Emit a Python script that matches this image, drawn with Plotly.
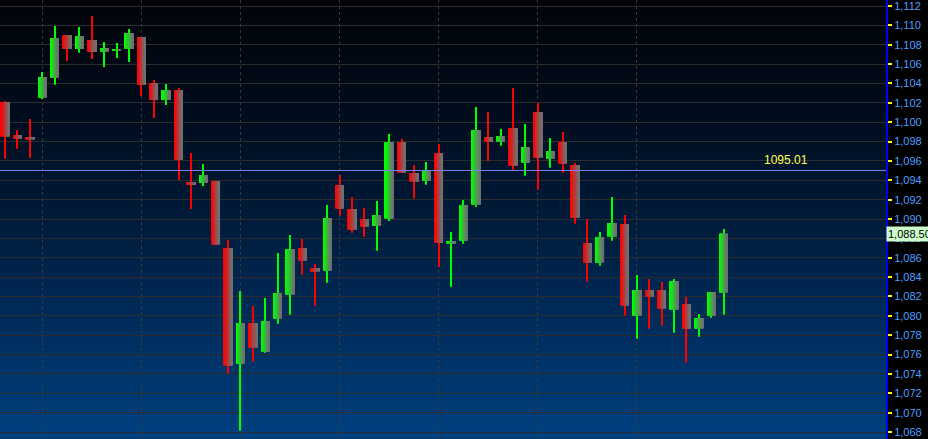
import plotly.graph_objects as go

# ---- data ----
opens = [1102.08, 1098.68, 1098.47, 1102.53, 1104.60, 1109.00, 1107.56, 1108.49, 1107.28, 1107.38,
         1107.56, 1108.80, 1104.05, 1102.29, 1103.32, 1093.82, 1093.72, 1093.93, 1087.00, 1075.05,
         1079.26, 1076.30, 1079.70, 1082.18, 1087.00, 1084.94, 1084.66, 1093.51, 1091.03, 1090.00,
         1089.31, 1090.03, 1097.95, 1094.75, 1093.96, 1096.82, 1087.45, 1087.76, 1091.48, 1098.47,
         1097.98, 1099.40, 1095.82, 1101.05, 1096.23, 1097.95, 1095.58, 1087.52, 1085.49, 1088.17,
         1089.48, 1080.01, 1082.67, 1082.67, 1080.63, 1081.22, 1078.67, 1080.01, 1082.39]
highs = [1102.19, 1099.19, 1100.33, 1105.18, 1109.93, 1109.00, 1109.83, 1110.97, 1108.28, 1108.18,
         1109.62, 1108.80, 1104.36, 1103.94, 1103.53, 1096.82, 1095.68, 1093.93, 1087.83, 1082.56,
         1081.01, 1081.84, 1086.49, 1088.35, 1087.93, 1085.35, 1091.45, 1094.54, 1092.27, 1091.14,
         1091.86, 1098.78, 1098.26, 1095.58, 1095.89, 1097.75, 1088.66, 1091.96, 1101.57, 1101.05,
         1099.30, 1103.53, 1099.81, 1101.98, 1098.37, 1098.99, 1095.78, 1090.00, 1088.66, 1092.27,
         1090.41, 1084.22, 1083.80, 1083.49, 1083.80, 1081.94, 1080.19, 1082.46, 1088.97]
lows = [1096.23, 1097.26, 1096.33, 1102.39, 1103.87, 1106.32, 1107.18, 1106.53, 1105.70, 1106.63,
        1106.22, 1102.70, 1100.43, 1101.78, 1094.03, 1091.03, 1093.41, 1087.30, 1074.02, 1068.14,
        1075.26, 1076.19, 1079.19, 1080.12, 1084.25, 1081.05, 1083.42, 1090.34, 1088.58, 1088.17,
        1086.73, 1089.79, 1094.78, 1092.10, 1093.54, 1085.04, 1083.00, 1087.45, 1091.27, 1095.99,
        1097.57, 1095.09, 1094.47, 1093.03, 1095.30, 1094.78, 1089.52, 1083.52, 1085.18, 1087.76,
        1080.01, 1077.64, 1078.67, 1078.98, 1078.26, 1075.16, 1077.84, 1079.81, 1080.12]
closes = [1098.50, 1098.29, 1098.19, 1104.67, 1108.69, 1107.56, 1108.90, 1107.25, 1107.66, 1107.56,
          1109.21, 1103.84, 1102.29, 1103.32, 1096.09, 1093.51, 1094.54, 1087.35, 1074.85, 1079.26,
          1076.71, 1079.47, 1082.36, 1086.90, 1085.69, 1084.56, 1090.10, 1091.06, 1088.90, 1089.20,
          1090.41, 1097.95, 1094.78, 1093.85, 1094.99, 1087.52, 1087.73, 1091.45, 1099.19, 1097.98,
          1098.57, 1095.50, 1097.44, 1096.33, 1097.02, 1095.71, 1090.13, 1085.49, 1088.14, 1089.59,
          1081.05, 1082.67, 1081.98, 1080.74, 1083.60, 1078.67, 1079.78, 1082.46, 1088.50]
day_breaks = [3, 11, 19, 27, 35, 43, 51]
ref_level = 1095.01
last_price = 1088.50

# ---- styling ----
x = list(range(len(opens)))
up = [c >= o for o, c in zip(opens, closes)]


def lerp(c1, c2, t):
    return "rgb(%d,%d,%d)" % tuple(round(a + (b - a) * t) for a, b in zip(c1, c2))


fig = go.Figure()

# wicks
fig.add_trace(go.Bar(
    x=x, base=lows, y=[h - l for h, l in zip(highs, lows)], width=0.09,
    marker=dict(color=["#00ff00" if u else "#ff0000" for u in up], line_width=0),
    hoverinfo="skip"))

# bodies with horizontal gradient (bright -> gray)
N = 8
bw = 0.68
GREEN, RED, GRAY = (0, 255, 0), (255, 0, 0), (112, 112, 112)
for j in range(N):
    t = j / (N - 1)
    cg, cr = lerp(GREEN, GRAY, t), lerp(RED, GRAY, t)
    fig.add_trace(go.Bar(
        x=x, base=[min(o, c) for o, c in zip(opens, closes)],
        y=[abs(c - o) for o, c in zip(opens, closes)],
        width=bw / N + 0.01, offset=-bw / 2 + j * bw / N,
        marker=dict(color=[cg if u else cr for u in up], line_width=0),
        hoverinfo="skip"))

# gradient background bands
stops = [(0.0, (2, 4, 8)), (0.25, (0, 12, 28)), (0.5, (0, 27, 58)),
         (0.75, (0, 45, 93)), (1.0, (0, 64, 128))]
shapes = []
NB = 110
for k in range(NB):
    f = (k + 0.5) / NB  # fraction from top
    for (f0, c0), (f1, c1) in zip(stops[:-1], stops[1:]):
        if f0 <= f <= f1:
            col = lerp(c0, c1, (f - f0) / (f1 - f0))
            break
    shapes.append(dict(type="rect", xref="paper", yref="paper", x0=0, x1=1,
                       y0=1 - (k + 1) / NB, y1=1 - k / NB + 0.002,
                       fillcolor=col, line_width=0, layer="below"))

shapes.append(dict(type="line", xref="paper", yref="y", x0=0, x1=1,
                   y0=ref_level, y1=ref_level, line=dict(color="#7c7cff", width=1)))

fig.update_layout(
    width=928, height=439,
    margin=dict(l=0, r=42, t=0, b=0),
    paper_bgcolor="#000000", plot_bgcolor="#000000",
    barmode="overlay", showlegend=False, hovermode=False,
    font=dict(family="Liberation Sans, Arial, sans-serif", size=11),
    shapes=shapes,
    xaxis=dict(range=[-0.414, 71.1], tickvals=day_breaks, showticklabels=False, ticks="",
               showgrid=True, gridcolor="#3a3a3a", griddash="3px,3px", gridwidth=1,
               zeroline=False, showline=False, fixedrange=True),
    yaxis=dict(side="right", range=[1067.28, 1112.62], tick0=1068, dtick=2, tickformat=",",
               ticks="outside", ticklen=4, tickwidth=2, tickcolor="#ffff00",
               tickfont=dict(color="#4d9fff", size=11), ticklabeloverflow="allow",
               showgrid=True, gridcolor="#2c2c2c", gridwidth=1,
               showline=True, linecolor="#0000ff", linewidth=2,
               zeroline=False, fixedrange=True, automargin=False),
    annotations=[
        dict(xref="paper", yref="y", x=0.914, y=ref_level, text="1095.01",
             showarrow=False, yanchor="bottom", yshift=2,
             font=dict(color="#ffff55", size=12)),
        dict(xref="paper", yref="y", x=1, y=last_price, text="1,088.50",
             showarrow=False, xanchor="left", xshift=0, bgcolor="#ccffcc",
             borderpad=1, font=dict(color="#000000", size=11)),
    ],
)

fig.write_html(
    "out.html",
    config={"displayModeBar": False},
    post_script="document.body.style.margin='0';document.body.style.overflow='hidden';",
)
